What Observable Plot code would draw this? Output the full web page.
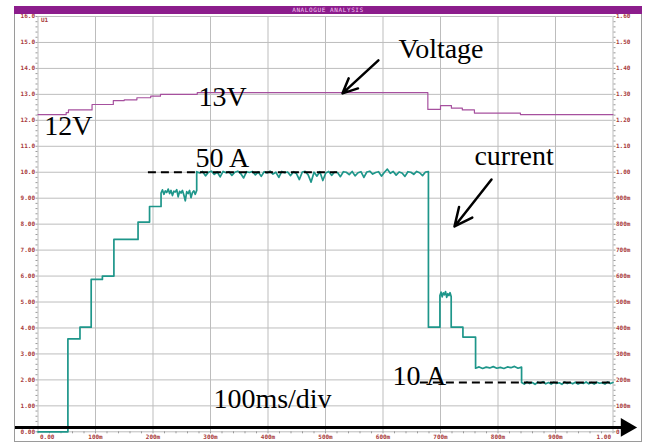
<!DOCTYPE html>
<html><head><meta charset="utf-8">
<script src="https://cdn.jsdelivr.net/npm/d3@7"></script>
<script src="https://cdn.jsdelivr.net/npm/@observablehq/plot@0.6"></script>
<style>
body{margin:0;background:#fff;}
#wrap{position:relative;width:645px;height:446px;overflow:hidden;}
#wrap svg{position:absolute;left:0;top:0;}
#border{position:absolute;left:14px;top:6px;width:626px;height:434px;border:1px solid #9a9a9a;pointer-events:none;}
#bar{position:absolute;left:14px;top:6px;width:628px;height:8px;background:#8c1d8c;color:#f3c6f3;font:6px "DejaVu Sans Mono",monospace;line-height:8px;text-align:center;letter-spacing:0.6px;}
</style></head><body><div id="wrap"><div id="border"></div><div id="bar">ANALOGUE ANALYSIS</div></div>
<script>
// ---- tick labels ----
const yTicks = [0,1,2,3,4,5,6,7,8,9,10,11,12,13,14,15,16];
const yLabelsLeft = ["0.00","1.00","2.00","3.00","4.00","5.00","6.00","7.00","8.00","9.00","10.0","11.0","12.0","13.0","14.0","15.0","16.0"];
const yLabelsRight = ["0","100m","200m","300m","400m","500m","600m","700m","800m","900m","1.00","1.10","1.20","1.30","1.40","1.50","1.60"];
const xTicks = [0,0.1,0.2,0.3,0.4,0.5,0.6,0.7,0.8,0.9,1.0];
const xLabels = ["0.00","100m","200m","300m","400m","500m","600m","700m","800m","900m","1.00"];

// ---- voltage trace (time s, value on left scale) ----
const voltT = [0, 0.049, 0.053, 0.094, 0.131, 0.150, 0.172, 0.196, 0.213, 0.277, 0.678, 0.700, 0.719, 0.738, 0.759, 0.839, 1.0];
const voltV = [12.22, 12.30, 12.40, 12.61, 12.76, 12.79, 12.87, 12.93, 13.0, 13.07, 12.42, 12.57, 12.47, 12.40, 12.28, 12.22, 12.22];

// ---- current trace: segments [t0, t1, value] ----
const curT0 = [0, 0.052, 0.073, 0.0925, 0.112, 0.132, 0.174, 0.194, 0.214, 0.276, 0.679, 0.699, 0.7186, 0.739, 0.761, 0.841];
const curT1 = [0.052, 0.073, 0.0925, 0.112, 0.132, 0.174, 0.194, 0.214, 0.276, 0.679, 0.699, 0.7186, 0.739, 0.761, 0.841, 1.0];
const curV  = [0, 3.58, 4.03, 5.87, 6.0, 7.41, 8.08, 8.68, 9.23, 9.99, 4.03, 5.28, 4.03, 3.65, 2.47, 1.87];
// noisy readings on the noisy plateaus (keyed by segment index)
const noise9 = [9.2,9.32,9.15,9.28,9.22,9.35,9.18,9.3,9.1,9.27,9.24,9.33,9.05,9.26,9.2,9.3,9.12,8.9,9.25,9.18,9.3,9.02,9.22,9.28,9.15,9.3];
const noise10 = [10.02,9.97,10.03,9.86,10.0,10.04,9.92,10.01,9.82,10.03,9.98,10.02,9.88,10.0,10.04,9.95,9.78,10.02,9.99,10.03,9.9,10.01,9.84,10.02,9.97,10.04,9.93,10.0,9.8,10.03,9.98,10.01,9.87,10.02,9.95,9.72,10.01,10.03,9.9,9.62,10.0,9.85,10.02,9.68,9.97,10.03,9.88,10.01,9.99,9.83,10.02,10.0,9.91,10.03,9.86,9.98,10.02,9.8,10.01,10.04,9.93,9.99,10.02,9.85,10.0,10.12,9.96,10.03,9.89,10.01,9.97,9.84,10.02,10.0,9.92,10.03,9.98,9.87,10.01,10.02];
const noise5 = [5.25,5.38,5.2,5.35,5.28,5.4,5.18,5.32,5.25,5.36,5.2];
const noise2 = [2.45,2.5,2.44,2.49,2.46,2.51,2.45,2.48,2.44,2.5,2.47,2.52,2.45,2.49];
const noise18 = [1.9,1.84,1.92,1.86,1.9,1.83,1.91,1.87,1.93,1.85,1.9,1.84,1.91,1.86,1.89,1.83,1.92,1.86,1.9,1.85,1.91,1.84,1.89,1.86,1.92,1.85,1.9,1.84,1.91,1.87,1.89,1.84,1.92,1.86,1.9];
const noiseBySeg = {8: noise9, 9: noise10, 11: noise5, 14: noise2, 15: noise18};

// ---- annotations ----
const annLabel = ["Voltage","13V","12V","50 A","current","10 A","100ms/div"];
const annT = [0.627, 0.279, 0.011, 0.274, 0.759, 0.6165, 0.305];
const annV = [14.39, 12.54, 11.42, 10.22, 10.26, 1.79, 0.90];
const arrowT1 = [0.592, 0.7887], arrowV1 = [14.31, 9.72];
const arrowT2 = [0.5296, 0.7243], arrowV2 = [13.04, 7.91];
const dashT1 = [0.192, 0.665], dashT2 = [0.521, 1.0], dashV = [10.0, 1.9];

// build tables
const volt = voltT.map((t,i)=>({t, v: voltV[i]}));
const cur = [];
curV.forEach((v,i)=>{
  const t0 = curT0[i], t1 = curT1[i], n = noiseBySeg[i];
  if (n) {
    n.forEach((val,k)=>cur.push({t: t0 + (t1-t0)*k/(n.length-1), v: val}));
  } else {
    cur.push({t:t0, v}); cur.push({t:t1, v});
  }
});
const ann = annLabel.map((s,i)=>({s, t: annT[i], v: annV[i]}));
const arrows = arrowT1.map((t,i)=>({t1:t, v1:arrowV1[i], t2:arrowT2[i], v2:arrowV2[i]}));
const dashes = dashV.map((v,i)=>({v, t1:dashT1[i], t2:dashT2[i]}));

const lab = {fontFamily:"DejaVu Sans Mono, monospace", fontSize:6, fontWeight:"bold"};
const red = "#a83a3a";
const grid = "#bdbdbd";

const svg = Plot.plot({
  width: 645, height: 446,
  marginLeft: 37.5, marginRight: 32.5, marginTop: 16, marginBottom: 14.7,
  x: {domain:[0,1], axis:null},
  y: {domain:[0,16], axis:null},
  style: {background:"#fff", overflow:"visible"},
  marks: [
    Plot.gridY(yTicks, {stroke:grid, strokeOpacity:1}),
    Plot.gridX(xTicks, {stroke:grid, strokeOpacity:1}),
    Plot.axisY(d3.range(0,16.001,0.2), {anchor:"left", tickSize:2, tickFormat:()=>"", stroke:"#999"}),
    Plot.axisY(d3.range(0,16.001,0.2), {anchor:"right", tickSize:2, tickFormat:()=>"", stroke:"#999"}),
    Plot.axisX(d3.range(0,1.0001,0.02), {anchor:"bottom", tickSize:2, tickFormat:()=>"", stroke:"#999"}),
    Plot.axisY(yTicks, {anchor:"left", tickSize:0, tickPadding:3, tickFormat:(d,i)=>yLabelsLeft[i], color:red, ...lab}),
    Plot.axisY(yTicks, {anchor:"right", tickSize:0, tickPadding:3, tickFormat:(d,i)=>yLabelsRight[i], color:red, ...lab}),
    Plot.axisX(xTicks.slice(1,10), {anchor:"bottom", tickSize:0, tickPadding:3, tickFormat:(d,i)=>xLabels[i+1], color:red, ...lab}),
    Plot.text([xLabels[0]], {x:()=>xTicks[0], y:()=>0, text:d=>d, textAnchor:"start", lineAnchor:"top", dx:2, dy:3, fill:red, ...lab}),
    Plot.text([xLabels[10]], {x:()=>xTicks[10], y:()=>0, text:d=>d, textAnchor:"end", lineAnchor:"top", dx:-2, dy:3, fill:red, ...lab}),
    Plot.text(["U1"], {x:()=>0, y:()=>16, text:d=>d, textAnchor:"start", lineAnchor:"top", dx:3, dy:1, fill:red, ...lab}),
    Plot.line(volt, {x:"t", y:"v", curve:"step-after", stroke:"#a6509e", strokeWidth:1.2}),
    Plot.line(cur, {x:"t", y:"v", stroke:"#1e968a", strokeWidth:1.7}),
    Plot.ruleY(dashes, {y:"v", x1:"t1", x2:"t2", stroke:"#000", strokeWidth:2, strokeDasharray:"8,5"}),
    Plot.ruleY([0.17], {x1:-0.04, x2:1.015, stroke:"#000", strokeWidth:3}),
    Plot.dot([0], {x:()=>1.023, y:()=>0.17, symbol:"triangle", rotate:90, r:7, fill:"#000", stroke:null}),
    Plot.arrow(arrows, {x1:"t1", y1:"v1", x2:"t2", y2:"v2", stroke:"#000", strokeWidth:2.5, headLength:13, headAngle:50}),
    Plot.text(ann, {x:"t", y:"v", text:"s", textAnchor:"start", lineAnchor:"bottom", fontFamily:"Liberation Serif, Times New Roman, serif", fontSize:28, fill:"#000"})
  ]
});
const wrap = document.getElementById("wrap");
wrap.insertBefore(svg, wrap.firstChild);
</script>
</body></html>
